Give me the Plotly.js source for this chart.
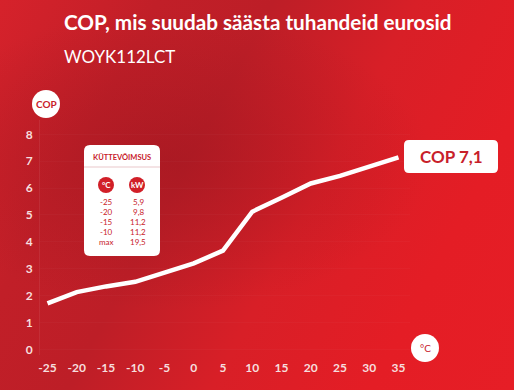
<!DOCTYPE html>
<html>
<head>
<meta charset="utf-8">
<script src="https://cdn.plot.ly/plotly-3.0.1.min.js"></script>
<style>
html,body{margin:0;padding:0;}
body{width:514px;height:390px;overflow:hidden;
background:
 radial-gradient(ellipse 260px 150px at 170px 160px, rgba(150,20,30,0.45), rgba(150,20,30,0) 100%),
 linear-gradient(118deg, #d6222b 0%, #c11f28 22%, #bd1e27 38%, #d81f27 58%, #e41d25 80%, #e61e26 100%);}
#chart{width:514px;height:390px;}
</style>
</head>
<body>
<div id="chart"></div>
<script>
// ---- data ----
const temps = [-25, -20, -15, -10, -5, 0, 5, 10, 15, 20, 25, 30, 35];
const cop   = [1.71, 2.13, 2.34, 2.51, 2.85, 3.2, 3.67, 5.12, 5.64, 6.17, 6.45, 6.79, 7.14];
const xTicks = [-25, -20, -15, -10, -5, 0, 5, 10, 15, 20, 25, 30, 35];
const yTicks = [0, 1, 2, 3, 4, 5, 6, 7, 8];
const tableTemps = ['-25', '-20', '-15', '-10', 'max'];
const tableKW    = ['5,9', '9,8', '11,2', '11,2', '19,5'];
const titleText = 'COP, mis suudab säästa tuhandeid eurosid';
const subtitleText = 'WOYK112LCT';
const tableTitle = 'KÜTTEVÕIMSUS';

// ---- layout helpers (page pixels -> paper) ----
const W = 514, H = 390, L = 40, R = 104, T = 120, B = 35;
const PW = W - L - R, PH = H - T - B;
const px = p => (p - L) / PW;
const py = p => (H - B - p) / PH;
const RED = '#c8202a';

function roundRect(x0, y0, x1, y1, r) {
  const X0 = px(x0), X1 = px(x1), Y0 = py(y0), Y1 = py(y1);
  const rx = r / PW, ry = r / PH;
  return `M${X0 + rx},${Y0} L${X1 - rx},${Y0} Q${X1},${Y0} ${X1},${Y0 - ry} ` +
         `L${X1},${Y1 + ry} Q${X1},${Y1} ${X1 - rx},${Y1} L${X0 + rx},${Y1} ` +
         `Q${X0},${Y1} ${X0},${Y1 + ry} L${X0},${Y0 - ry} Q${X0},${Y0} ${X0 + rx},${Y0} Z`;
}
function circle(cx, cy, r, color) {
  return {type: 'circle', xref: 'paper', yref: 'paper', layer: 'above',
    x0: px(cx - r), x1: px(cx + r), y0: py(cy + r), y1: py(cy - r),
    fillcolor: color, line: {width: 0}};
}
function txt(x, y, text, size, color, weight, anchor) {
  return {xref: 'paper', yref: 'paper', x: px(x), y: py(y), text: text, showarrow: false,
    xanchor: anchor || 'center', yanchor: 'middle',
    font: {family: 'Lato, sans-serif', size: size, color: color, weight: weight || 400}};
}

const shapes = [
  {type: 'path', xref: 'paper', yref: 'paper', layer: 'above', path: roundRect(84, 145, 160, 256, 6),
   fillcolor: '#ffffff', line: {width: 0}},
  {type: 'line', xref: 'paper', yref: 'paper', layer: 'above', x0: px(84), x1: px(160), y0: py(167), y1: py(167),
   line: {color: '#e3b9bc', width: 0.8}},
  circle(106, 185, 8, '#d11f28'),
  circle(137, 185, 8, '#d11f28'),
  {type: 'path', xref: 'paper', yref: 'paper', layer: 'above', path: roundRect(404, 140, 498, 173, 5),
   fillcolor: '#ffffff', line: {width: 0}},
  circle(46, 104, 14, '#ffffff'),
  circle(425, 348, 14, '#ffffff')
];

const lastVal = cop[cop.length - 1].toFixed(1).replace('.', ',');
const annotations = [
  txt(62, 22, titleText, 20.7, '#ffffff', 700, 'left'),
  txt(62, 57, subtitleText, 17, '#ffffff', 400, 'left'),
  txt(122, 157, tableTitle, 7.5, RED, 700),
  txt(106, 185, '°C', 8, '#ffffff', 700),
  txt(137, 185, 'kW', 8, '#ffffff', 700),
  txt(451, 156.5, 'COP ' + lastVal, 17, RED, 700),
  txt(46, 104, 'COP', 10, RED, 700),
  txt(425, 348, '°C', 10, RED, 400)
];
const rowY = [201.7, 211.5, 221.5, 231.7, 242];
tableTemps.forEach((t, i) => {
  annotations.push(txt(106, rowY[i], t, 8, RED, 400));
  annotations.push(txt(138, rowY[i], tableKW[i], 8, RED, 400));
});

// x range so that -25 -> 47.5px and 35 -> 398.5px
const sx = (398.5 - 47.5) / 60;
const x0 = -25 - (47.5 - L) / sx, x1 = x0 + PW / sx;
const sy = (349.3 - 134.3) / 8;
const y0 = -(H - B - 349.3) / sy, y1 = (349.3 - T) / sy;

const trace = {
  x: temps, y: cop, type: 'scatter', mode: 'lines',
  line: {color: '#ffffff', width: 4.5, shape: 'linear'},
  hoverinfo: 'skip'
};

const tickFont = {family: 'Lato, sans-serif', size: 12, color: '#f6dede', weight: 700};
const layout = {
  width: W, height: H,
  margin: {l: L, r: R, t: T, b: B, pad: 0},
  paper_bgcolor: 'rgba(0,0,0,0)', plot_bgcolor: 'rgba(0,0,0,0)',
  showlegend: false,
  xaxis: {range: [x0, x1], tickvals: xTicks, ticktext: xTicks.map(String), showgrid: false,
    zeroline: false, showline: false, ticks: '', tickfont: tickFont, ticklabelstandoff: 4, fixedrange: true},
  yaxis: {range: [y0, y1], tickvals: yTicks, ticktext: yTicks.map(String), showgrid: true,
    gridcolor: 'rgba(255,255,255,0.025)', zeroline: false, showline: true, linecolor: 'rgba(255,255,255,0.07)',
    ticks: '', tickfont: tickFont, ticklabelstandoff: 4, fixedrange: true},
  shapes: shapes,
  annotations: annotations
};

Plotly.newPlot('chart', [trace], layout, {displayModeBar: false, staticPlot: true});
</script>
</body>
</html>
